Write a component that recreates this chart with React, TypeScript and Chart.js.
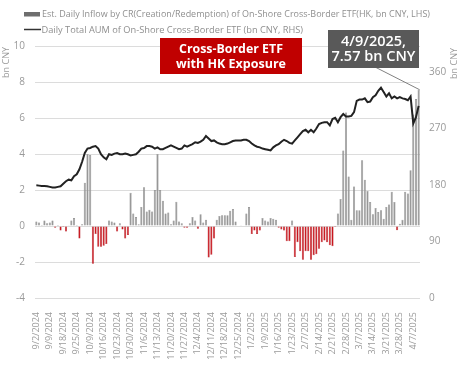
import React, { useEffect, useRef } from "react";
import { Chart, registerables } from "chart.js";

Chart.register(...registerables);

const dates: string[] = [
  "9/2/2024", "9/3/2024", "9/4/2024", "9/5/2024", "9/6/2024",
  "9/9/2024", "9/10/2024", "9/11/2024", "9/12/2024", "9/13/2024",
  "9/18/2024", "9/19/2024", "9/20/2024", "9/23/2024", "9/24/2024",
  "9/25/2024", "9/26/2024", "9/27/2024", "9/30/2024", "10/8/2024",
  "10/9/2024", "10/10/2024", "10/11/2024", "10/14/2024", "10/15/2024",
  "10/16/2024", "10/17/2024", "10/18/2024", "10/21/2024", "10/22/2024",
  "10/23/2024", "10/24/2024", "10/25/2024", "10/28/2024", "10/29/2024",
  "10/30/2024", "10/31/2024", "11/1/2024", "11/4/2024", "11/5/2024",
  "11/6/2024", "11/7/2024", "11/8/2024", "11/11/2024", "11/12/2024",
  "11/13/2024", "11/14/2024", "11/15/2024", "11/18/2024", "11/19/2024",
  "11/20/2024", "11/21/2024", "11/22/2024", "11/25/2024", "11/26/2024",
  "11/27/2024", "11/28/2024", "11/29/2024", "12/2/2024", "12/3/2024",
  "12/4/2024", "12/5/2024", "12/6/2024", "12/9/2024", "12/10/2024",
  "12/11/2024", "12/12/2024", "12/13/2024", "12/16/2024", "12/17/2024",
  "12/18/2024", "12/19/2024", "12/20/2024", "12/23/2024", "12/24/2024",
  "12/25/2024", "12/26/2024", "12/27/2024", "12/30/2024", "12/31/2024",
  "1/2/2025", "1/3/2025", "1/6/2025", "1/7/2025", "1/8/2025",
  "1/9/2025", "1/10/2025", "1/13/2025", "1/14/2025", "1/15/2025",
  "1/16/2025", "1/17/2025", "1/20/2025", "1/21/2025", "1/22/2025",
  "1/23/2025", "1/24/2025", "1/27/2025", "2/5/2025", "2/6/2025",
  "2/7/2025", "2/10/2025", "2/11/2025", "2/12/2025", "2/13/2025",
  "2/14/2025", "2/17/2025", "2/18/2025", "2/19/2025", "2/20/2025",
  "2/21/2025", "2/24/2025", "2/25/2025", "2/26/2025", "2/27/2025",
  "2/28/2025", "3/3/2025", "3/4/2025", "3/5/2025", "3/6/2025",
  "3/7/2025", "3/10/2025", "3/11/2025", "3/12/2025", "3/13/2025",
  "3/14/2025", "3/17/2025", "3/18/2025", "3/19/2025", "3/20/2025",
  "3/21/2025", "3/24/2025", "3/25/2025", "3/26/2025", "3/27/2025",
  "3/28/2025", "3/31/2025", "4/1/2025", "4/2/2025", "4/3/2025",
  "4/7/2025", "4/8/2025", "4/9/2025",
];

const tickLabels: string[] = [
  "9/2/2024", "9/9/2024", "9/18/2024", "9/25/2024", "10/9/2024", "10/16/2024",
  "10/23/2024", "10/30/2024", "11/6/2024", "11/13/2024", "11/20/2024", "11/27/2024",
  "12/4/2024", "12/11/2024", "12/18/2024", "12/25/2024", "1/2/2025", "1/9/2025",
  "1/16/2025", "1/23/2025", "2/7/2025", "2/14/2025", "2/21/2025", "2/28/2025",
  "3/7/2025", "3/14/2025", "3/21/2025", "3/28/2025", "4/7/2025",
];

// Est. daily inflow (bn CNY, LHS)
const inflow: number[] = [
  0.25, 0.2, 0.05, 0.3, 0.15, 0.2, 0.3, -0.1, 0.05, -0.25,
  -0.05, -0.3, 0.02, 0.3, 0.45, 0.05, -0.7, 0.1, 2.4, 4.0,
  3.95, -2.1, -0.45, -1.15, -1.15, -1.1, -1.0, 0.3, 0.25, 0.2,
  -0.3, 0.15, -0.2, -0.7, -0.5, 1.85, 0.7, 0.5, 0.1, 1.05,
  2.15, 0.8, 0.9, 0.8, 2.0, 4.0, 2.0, 1.4, 0.7, 0.75,
  0.1, 0.3, 1.35, 0.25, 0.15, -0.1, -0.1, 0.15, 0.5, 0.3,
  -0.15, 0.65, 0.2, 0.35, -1.75, -1.6, -0.7, 0.35, 0.55, 0.6,
  0.6, 0.6, 0.85, 0.95, 0.25, -0.03, 0.02, -0.03, 0.7, 1.05,
  -0.45, -0.25, -0.45, -0.25, 0.45, 0.3, 0.25, 0.45, 0.4, 0.35,
  -0.1, -0.2, -0.25, -0.85, -0.85, 0.3, -1.72, -0.9, -1.4, -1.87,
  -1.4, -1.4, -1.87, -1.63, -1.57, -1.26, -0.9, -0.8, -0.9, -1.07,
  -1.13, -0.05, 0.7, 1.5, 4.2, 6.3, 2.75, 0.35, 2.2, 0.87,
  0.87, 3.65, 2.57, 1.94, 1.33, 0.65, 1.0, 0.78, 0.87, 0.4,
  1.05, 1.2, 1.9, 1.33, -0.24, 0.13, 0.35, 1.9, 1.8, 3.1,
  6.2, 7.05, 7.57,
];

// Daily total AUM (bn CNY, RHS)
const aum: number[] = [
  179.5, 179, 178.5, 178.5, 178, 177, 176, 176, 177, 178,
  182, 186, 188.5, 187.5, 194, 197, 205, 217, 231, 238,
  239, 241, 242, 238, 229, 224, 221, 229, 228, 230,
  231, 229, 229, 230, 229, 227, 228, 229, 233, 238,
  239, 242, 242, 241, 238, 240, 237, 237, 239, 241,
  243, 241, 239, 237, 238, 243, 241, 243, 245, 248,
  247, 249, 252, 258, 254, 250, 251, 248, 246, 245,
  245, 246, 248, 250, 251, 251, 251, 252, 252, 250,
  246, 243, 241, 240, 238, 237, 236, 235, 240, 243,
  245, 249, 252, 250, 247, 246, 251, 256, 261, 266,
  268, 264, 268, 264, 270, 277, 279, 280, 280, 275,
  285, 287, 280, 288, 293, 289, 289, 290, 296, 314,
  316, 316, 318, 312, 313, 320, 323, 330, 335, 328,
  321, 326, 318, 321, 318, 320, 318, 317, 315, 321,
  278, 288, 306,
];

const leftTicks: number[] = [-4, -2, 0, 2, 4, 6, 8, 10];
const rightTicks: number[] = [0, 90, 180, 270, 360];

const legendLabels: string[] = [
  "Est. Daily Inflow by CR(Creation/Redemption) of On-Shore Cross-Border ETF(HK, bn CNY, LHS)",
  "Daily Total AUM of On-Shore Cross-Border ETF (bn CNY, RHS)",
];
const axisTitle = "bn CNY";
const boxRed: string[] = ["Cross-Border ETF", "with HK Exposure"];
const boxGray: string[] = ["4/9/2025,", "7.57 bn CNY"];
const calloutIndex = 142;
const calloutValue = 7.57;

const FAMILY = "'Open Sans', sans-serif";
const GRAY_BAR = "#979797";
const GRAY_EDGE = "#7a7a7a";
const RED_BAR = "#c8161e";
const TEXT_GRAY = "#9a9a9a";

function fitFont(ctx: CanvasRenderingContext2D, text: string, weight: string, target: number) {
  ctx.font = `${weight} 10px ${FAMILY}`;
  const w = ctx.measureText(text).width;
  const size = (10 * target) / w;
  ctx.font = `${weight} ${size.toFixed(2)}px ${FAMILY}`;
}

const overlay = {
  id: "overlay",
  afterDraw(chart: any) {
    const ctx: CanvasRenderingContext2D = chart.ctx;
    const xs = chart.scales.x;
    const ys = chart.scales.y;
    ctx.save();

    // Legend
    ctx.fillStyle = "#6e6e6e";
    ctx.fillRect(24, 12, 16, 4.5);
    ctx.strokeStyle = "#333333";
    ctx.lineWidth = 1.5;
    ctx.beginPath();
    ctx.moveTo(24, 29.5);
    ctx.lineTo(41, 29.5);
    ctx.stroke();
    ctx.fillStyle = "#8f8f8f";
    ctx.textBaseline = "middle";
    ctx.textAlign = "left";
    fitFont(ctx, legendLabels[0], "400", 388);
    ctx.fillText(legendLabels[0], 42, 14.5);
    fitFont(ctx, legendLabels[1], "400", 262);
    ctx.fillText(legendLabels[1], 41.5, 30);

    // Axis titles
    ctx.fillStyle = TEXT_GRAY;
    fitFont(ctx, axisTitle, "400", 31);
    ctx.textAlign = "right";
    ctx.save();
    ctx.translate(6.5, 47);
    ctx.rotate(-Math.PI / 2);
    ctx.fillText(axisTitle, 0, 0);
    ctx.restore();
    ctx.save();
    ctx.translate(454, 48);
    ctx.rotate(-Math.PI / 2);
    ctx.fillText(axisTitle, 0, 0);
    ctx.restore();

    // Red annotation
    ctx.fillStyle = "#c00000";
    ctx.fillRect(160, 38, 142, 36);
    ctx.fillStyle = "#ffffff";
    ctx.textAlign = "center";
    fitFont(ctx, boxRed[0], "700", 104);
    ctx.fillText(boxRed[0], 231, 49.5);
    fitFont(ctx, boxRed[1], "700", 110);
    ctx.fillText(boxRed[1], 231, 64.5);

    // Callout line to last bar
    const bx = xs.getPixelForValue(calloutIndex) + 1;
    const by = ys.getPixelForValue(calloutValue);
    ctx.strokeStyle = "#808080";
    ctx.lineWidth = 1;
    ctx.beginPath();
    ctx.moveTo(375, 67);
    ctx.lineTo(bx, by);
    ctx.stroke();

    // Gray annotation
    ctx.fillStyle = "#595959";
    ctx.fillRect(328, 30, 91, 38);
    ctx.fillStyle = "#ffffff";
    fitFont(ctx, boxGray[0], "600", 65);
    ctx.fillText(boxGray[0], 373.5, 41.5);
    fitFont(ctx, boxGray[1], "600", 84);
    ctx.fillText(boxGray[1], 373.5, 57);

    ctx.restore();
  },
};

export default function App() {
  const ref = useRef<HTMLCanvasElement>(null);
  useEffect(() => {
    if (!ref.current) return;
    Chart.defaults.font.family = FAMILY;
    const chart = new Chart(ref.current, {
      type: "bar",
      data: {
        labels: dates,
        datasets: [
          {
            type: "line",
            label: legendLabels[1],
            data: aum,
            yAxisID: "y1",
            borderColor: "#222222",
            borderWidth: 2,
            pointRadius: 0,
            tension: 0,
            order: 0,
          } as any,
          {
            type: "bar",
            label: legendLabels[0],
            data: inflow,
            yAxisID: "y",
            backgroundColor: inflow.map((v) => (v < 0 ? RED_BAR : GRAY_BAR)),
            borderColor: inflow.map((v) => (v < 0 ? "#b01018" : GRAY_EDGE)),
            borderWidth: 0.5,
            barPercentage: 0.78,
            categoryPercentage: 1,
            order: 1,
          } as any,
        ],
      },
      options: {
        animation: false,
        responsive: false,
        layout: { padding: { top: 46, left: 0, right: 0, bottom: 0 } },
        plugins: { legend: { display: false }, tooltip: { enabled: false } },
        scales: {
          x: {
            type: "category",
            grid: { display: false },
            border: { display: false },
            ticks: {
              autoSkip: false,
              maxRotation: 90,
              minRotation: 90,
              padding: 6,
              color: TEXT_GRAY,
              font: { size: 9 },
              callback: (_v: any, i: number) => (tickLabels.includes(dates[i]) ? dates[i] : ""),
            },
            afterFit: (s: any) => {
              s.height = 68;
            },
          },
          y: {
            position: "left",
            min: -4,
            max: 10,
            grid: { color: "#dcdcdc", drawTicks: false, lineWidth: 1 },
            border: { display: false },
            ticks: { padding: 10, color: TEXT_GRAY, font: { size: 10 } },
            afterBuildTicks: (s: any) => {
              s.ticks = leftTicks.map((v) => ({ value: v }));
            },
            afterFit: (s: any) => {
              s.width = 35;
            },
          },
          y1: {
            position: "right",
            min: 0,
            max: 401.4,
            grid: { display: false, drawTicks: false },
            border: { display: false },
            ticks: { padding: 9, color: TEXT_GRAY, font: { size: 10 } },
            afterBuildTicks: (s: any) => {
              s.ticks = rightTicks.map((v) => ({ value: v }));
            },
            afterFit: (s: any) => {
              s.width = 44;
            },
          },
        },
      } as any,
      plugins: [overlay],
    });
    return () => chart.destroy();
  }, []);
  return (
    <div style={{ position: "fixed", left: 0, top: 0, width: 464, height: 366, background: "#ffffff" }}>
      <canvas ref={ref} width={464} height={366} style={{ width: 464, height: 366, display: "block" }} />
    </div>
  );
}
